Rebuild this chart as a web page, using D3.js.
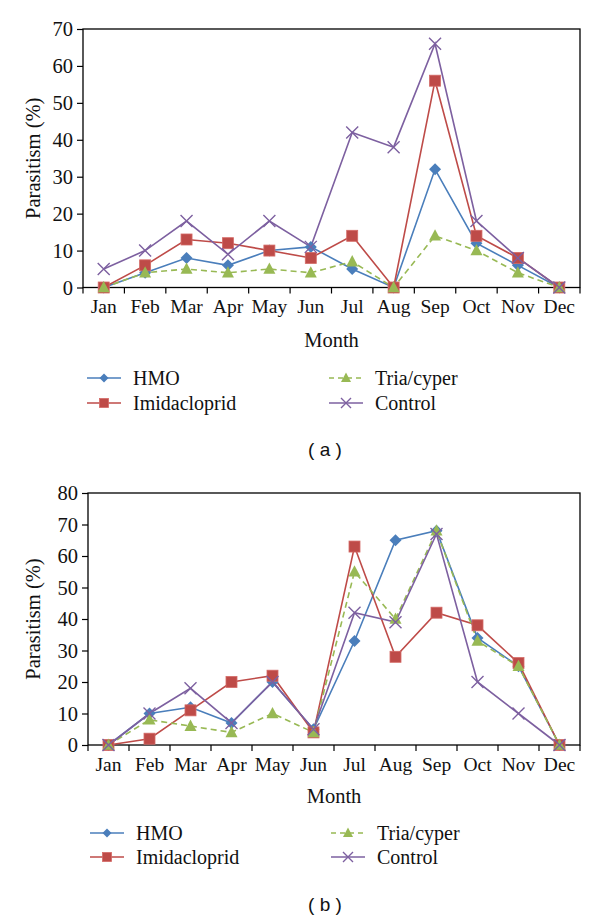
<!DOCTYPE html>
<html><head><meta charset="utf-8">
<script src="https://cdn.jsdelivr.net/npm/d3@7"></script>
<style>html,body{margin:0;padding:0;background:#fff;}svg{display:block;}
text.sf{font-family:"Liberation Serif","DejaVu Serif",serif;}
text.ss{font-family:"Liberation Sans","DejaVu Sans",sans-serif;}
</style>
</head><body>
<script>
const months = ["Jan","Feb","Mar","Apr","May","Jun","Jul","Aug","Sep","Oct","Nov","Dec"];
const seriesNames = ["HMO","Imidacloprid","Tria/cyper","Control"];
const ticksA = [0,10,20,30,40,50,60,70];
const ticksB = [0,10,20,30,40,50,60,70,80];
// Panel (a)
const hmoA  = [0,4,8,6,10,11,5,0,32,12,6,0];
const imiA  = [0,6,13,12,10,8,14,0,56,14,8,0];
const triaA = [0,4,5,4,5,4,7,0,14,10,4,0];
const ctrlA = [5,10,18,9,18,11,42,38,66,18,8,0];
// Panel (b)
const hmoB  = [0,10,12,7,20,5,33,65,68,34,25,0];
const imiB  = [0,2,11,20,22,4,63,28,42,38,26,0];
const triaB = [0,8,6,4,10,4,55,40,68,33,25,0];
const ctrlB = [0,10,18,7,20,5,42,39,67,20,10,0];

const colors = ["#4a7ebb","#be4b48","#98b954","#7d60a0"];
const markers = ["diamond","square","triangle","cross"];
const dashes = [null,null,"6,4",null];

const svg = d3.select("body").append("svg").attr("width",600).attr("height",919);

function marker(g, type, x, y, s, color){
  if(type==="diamond"){
    g.append("path").attr("d",`M${x},${y-s}L${x+s},${y}L${x},${y+s}L${x-s},${y}Z`).attr("fill",color);
  } else if(type==="square"){
    g.append("rect").attr("x",x-s).attr("y",y-s).attr("width",2*s).attr("height",2*s)
      .attr("fill",color).attr("stroke","#d46a66").attr("stroke-width",0.8);
  } else if(type==="triangle"){
    g.append("path").attr("d",`M${x},${y-s*1.1}L${x+s},${y+s*0.8}L${x-s},${y+s*0.8}Z`).attr("fill",color);
  } else {
    g.append("path").attr("d",`M${x-s},${y-s}L${x+s},${y+s}M${x-s},${y+s}L${x+s},${y-s}`)
      .attr("stroke",color).attr("stroke-width",1.4).attr("fill","none");
  }
}

function panel(cfg){
  const g = svg.append("g");
  const x = d3.scaleBand().domain(months).range([cfg.left,cfg.right]);
  const y = d3.scaleLinear().domain([0,cfg.ymax]).range([cfg.bottom,cfg.top]);
  g.append("rect").attr("x",cfg.left).attr("y",cfg.top).attr("width",cfg.right-cfg.left)
    .attr("height",cfg.bottom-cfg.top).attr("fill","none").attr("stroke","#000").attr("stroke-width",1.3);
  const ya = g.append("g").attr("transform",`translate(${cfg.left},0)`)
    .call(d3.axisLeft(y).tickValues(cfg.ticks).tickSize(6).tickPadding(4).tickFormat(d3.format("d")));
  ya.select(".domain").remove();
  ya.selectAll("line").attr("stroke","#000").attr("stroke-width",1.2);
  ya.selectAll("text").attr("class","sf").attr("font-family",null).attr("font-size",20.5).attr("fill","#111");
  const xa = g.append("g").attr("transform",`translate(0,${cfg.bottom})`)
    .call(d3.axisBottom(x).tickSize(0).tickPadding(12));
  xa.select(".domain").remove();
  xa.selectAll("text").attr("class","sf").attr("font-family",null).attr("font-size",19.5).attr("fill","#111");
  const bounds = months.map(m=>x(m)).concat([cfg.right]);
  g.selectAll(null).data(bounds).enter().append("line")
    .attr("x1",d=>d).attr("x2",d=>d).attr("y1",cfg.bottom).attr("y2",cfg.bottom+6)
    .attr("stroke","#000").attr("stroke-width",1.2);
  g.append("text").attr("class","sf").attr("transform",`translate(${cfg.ylabX},${(cfg.top+cfg.bottom)/2}) rotate(-90)`)
    .attr("text-anchor","middle").attr("dominant-baseline","central")
    .attr("font-size",20.5).attr("fill","#111").text("Parasitism (%)");
  g.append("text").attr("class","sf").attr("x",(cfg.left+cfg.right)/2).attr("y",cfg.monthY)
    .attr("text-anchor","middle").attr("dominant-baseline","central")
    .attr("font-size",20.5).attr("fill","#111").text("Month");
  const line = d3.line().x((d,i)=>x(months[i])+x.bandwidth()/2).y(d=>y(d));
  cfg.data.forEach((vals,k)=>{
    g.append("path").datum(vals).attr("d",line).attr("fill","none")
      .attr("stroke",colors[k]).attr("stroke-width",1.6)
      .attr("stroke-dasharray",dashes[k]);
  });
  cfg.data.forEach((vals,k)=>{
    const mg = g.append("g");
    vals.forEach((v,i)=>marker(mg,markers[k],x(months[i])+x.bandwidth()/2,y(v),k===0?6:(k===1?5.5:6),colors[k]));
  });
  seriesNames.forEach((name,k)=>{
    const col = k<2?0:1, row = k%2;
    const lx = cfg.legX[col], ly = cfg.legY[row];
    const lg = g.append("g");
    lg.append("line").attr("x1",lx).attr("x2",lx+34).attr("y1",ly).attr("y2",ly)
      .attr("stroke",colors[k]).attr("stroke-width",1.6).attr("stroke-dasharray",dashes[k]?"5,4":null);
    marker(lg,markers[k],lx+17,ly,k===0?4.5:(k===1?4.5:5),colors[k]);
    lg.append("text").attr("class","sf").attr("x",lx+46).attr("y",ly).attr("dominant-baseline","central")
      .attr("font-size",20).attr("fill","#111").text(name);
  });
  g.append("text").attr("class","ss").attr("x",325).attr("y",cfg.capY).attr("text-anchor","middle").attr("dominant-baseline","central")
    .attr("font-size",19).attr("fill","#111").text(cfg.caption);
}

panel({left:83,right:580,top:29,bottom:287.5,ymax:70,ticks:ticksA,data:[hmoA,imiA,triaA,ctrlA],
  ylabX:33,monthY:340,legX:[87,329],legY:[378,403],capY:449,caption:"( a )"});
panel({left:88,right:580,top:493,bottom:745,ymax:80,ticks:ticksB,data:[hmoB,imiB,triaB,ctrlB],
  ylabX:33,monthY:796,legX:[90,331],legY:[833,857],capY:904,caption:"( b )"});
</script>
</body></html>
